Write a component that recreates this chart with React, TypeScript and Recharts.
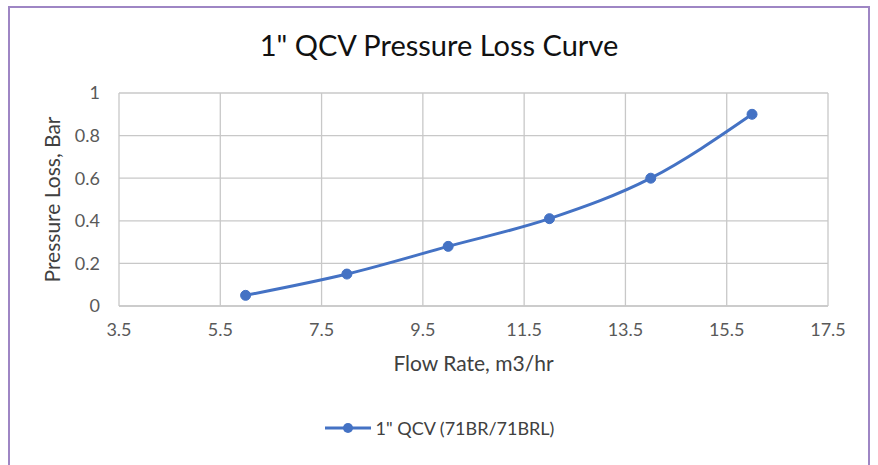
import { LineChart, Line, XAxis, YAxis, CartesianGrid, Legend } from "recharts";

const flowRates = [6, 8, 10, 12, 14, 16];
const pressureLoss = [0.05, 0.15, 0.28, 0.41, 0.6, 0.9];
const xTicks = [3.5, 5.5, 7.5, 9.5, 11.5, 13.5, 15.5, 17.5];
const yTicks = [0, 0.2, 0.4, 0.6, 0.8, 1];
const seriesName = '1" QCV (71BR/71BRL)';
const title = '1" QCV Pressure Loss Curve';

const chartData = flowRates.map((x, i) => ({ flow: x, loss: pressureLoss[i] }));

const BLUE = "#4472C4";
const GRID = "#c8c8c8";
const TICK = "#595959";
const FONT = "Lato, 'Open Sans', sans-serif";

function LegendContent() {
  return (
    <div style={{ display: "flex", alignItems: "center", justifyContent: "center", fontFamily: FONT, fontSize: 18, color: "#404040" }}>
      <svg width={48} height={14} style={{ marginRight: 4 }}>
        <line x1={1} y1={7} x2={47} y2={7} stroke={BLUE} strokeWidth={3} />
        <circle cx={24} cy={7} r={5} fill={BLUE} />
      </svg>
      <span>{seriesName}</span>
    </div>
  );
}

export default function App() {
  return (
    <div style={{ position: "absolute", left: 0, top: 0, width: 878, height: 465, background: "#fff", overflow: "hidden" }}>
      <div
        style={{
          position: "absolute",
          left: 8,
          top: 6,
          width: 862,
          height: 480,
          border: "2px solid #9e86c4",
          boxSizing: "border-box",
        }}
      />
      <div
        style={{
          position: "absolute",
          left: 0,
          top: 27,
          width: 878,
          textAlign: "center",
          fontFamily: FONT,
          fontSize: 29,
          color: "#111",
          lineHeight: "36px",
        }}
      >
        {title}
      </div>
      <div style={{ position: "absolute", left: 0, top: 0 }}>
        <LineChart width={878} height={465} data={chartData} margin={{ top: 93, right: 50, bottom: 129, left: 59 }}>
          <CartesianGrid stroke={GRID} strokeWidth={1.3} horizontalValues={yTicks} verticalValues={xTicks} />
          <XAxis
            dataKey="flow"
            type="number"
            domain={[3.5, 17.5]}
            ticks={xTicks}
            height={30}
            axisLine={{ stroke: GRID, strokeWidth: 1.3 }}
            tickLine={false}
            tickMargin={11}
            tick={{ fill: TICK, fontSize: 18, fontFamily: FONT }}
            label={{ value: "Flow Rate, m3/hr", position: "bottom", offset: 20, fill: "#404040", fontSize: 21, fontFamily: FONT }}
          />
          <YAxis
            type="number"
            domain={[0, 1]}
            ticks={yTicks}
            width={60}
            axisLine={false}
            tickLine={false}
            tickMargin={13}
            tick={{ fill: TICK, fontSize: 18, fontFamily: FONT }}
            label={{ value: "Pressure Loss, Bar", angle: -90, position: "center", dx: -36, fill: "#404040", fontSize: 21, fontFamily: FONT }}
          />
          <Legend
            layout="horizontal"
            verticalAlign="middle"
            align="center"
            content={<LegendContent />}
            wrapperStyle={{ top: 417, left: 0, width: 878 }}
          />
          <Line
            type="monotone"
            dataKey="loss"
            name={seriesName}
            stroke={BLUE}
            strokeWidth={3}
            dot={{ r: 5, fill: BLUE, stroke: BLUE, strokeWidth: 1 }}
            activeDot={false}
            isAnimationActive={false}
          />
        </LineChart>
      </div>
    </div>
  );
}
